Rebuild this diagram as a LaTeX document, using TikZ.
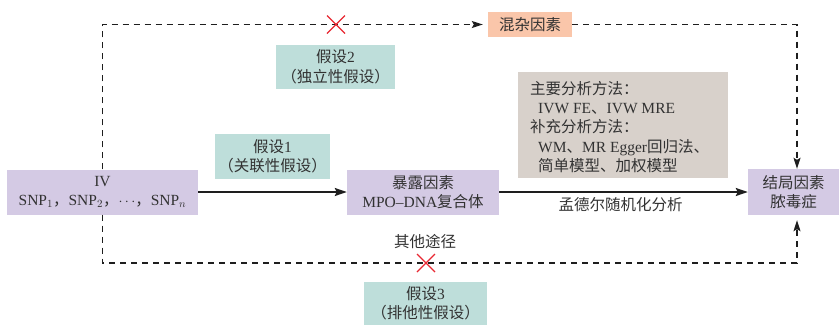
\documentclass[tikz,border=0pt]{standalone}
\usepackage{fontspec}
\setmainfont{Liberation Serif}
\newfontfamily\cjk{Noto Sans CJK SC}
\newcommand{\zh}[1]{{\cjk #1}}
\usetikzlibrary{arrows.meta}
\definecolor{boxpurple}{RGB}{212,202,228}
\definecolor{boxteal}{RGB}{190,222,218}
\definecolor{boxorange}{RGB}{250,198,170}
\definecolor{boxbeige}{RGB}{216,209,203}
\definecolor{txt}{RGB}{50,50,50}
\definecolor{crossred}{RGB}{232,40,50}
\definecolor{lin}{RGB}{30,30,30}
\begin{document}
\begin{tikzpicture}[x=1pt,y=-1pt,
  every node/.style={font=\fontsize{15.5}{19.5}\selectfont, text=txt, inner sep=0pt},
  purplebox/.style={fill=boxpurple, align=center},
  tealbox/.style={fill=boxteal, align=center},
  solidarrow/.style={draw=lin, line width=1.8pt, -{Stealth[length=12pt,width=8pt,inset=2pt]}},
  dasharrow/.style={draw=lin, line width=1.2pt, dash pattern=on 6pt off 5pt, -{Stealth[length=11pt,width=7pt,inset=2pt]}},
  crossmark/.style={draw=crossred, line width=1.3pt}
]
\useasboundingbox (0,0) rectangle (839,325);

% main boxes
\node[purplebox, minimum width=191pt, minimum height=45pt] (iv) at (102.5,192)
  {IV\\SNP$_1$\zh{，}SNP$_2$\zh{，}$\cdots$\zh{，}SNP$_n$};
\node[purplebox, minimum width=152pt, minimum height=45pt] (exp) at (423,192)
  {\zh{暴露因素}\\MPO–DNA\zh{复合体}};
\node[purplebox, minimum width=91pt, minimum height=46pt] (out) at (793.5,192)
  {\zh{结局因素}\\\zh{脓毒症}};
\node[fill=boxorange, minimum width=84pt, minimum height=25pt] (conf) at (530,24.5)
  {\zh{混杂因素}};

% assumption boxes
\node[tealbox, minimum width=119pt, minimum height=44pt] (h2) at (335.5,67)
  {\zh{假设}2\\\zh{（独立性假设）}};
\node[tealbox, minimum width=115pt, minimum height=45pt] (h1) at (272.5,156.5)
  {\zh{假设}1\\\zh{（关联性假设）}};
\node[tealbox, minimum width=123pt, minimum height=43pt] (h3) at (425.5,303.5)
  {\zh{假设}3\\\zh{（排他性假设）}};

% methods box
\node[fill=boxbeige, minimum width=210pt, minimum height=106pt] (meth) at (623,125) {};
\node[align=left, anchor=west, font=\fontsize{15.5}{19.3}\selectfont] (methtxt) at (530,127)
  {\zh{主要分析方法：}\\
   \hspace*{8pt}IVW FE\zh{、}IVW MRE\\
   \zh{补充分析方法：}\\
   \hspace*{8pt}WM\zh{、}MR Egger\zh{回归法、}\\
   \hspace*{8pt}\zh{简单模型、加权模型}};

% solid arrows
\draw[solidarrow] (iv.east) -- (exp.west);
\draw[solidarrow] (exp.east) -- node[midway, below=5pt, xshift=-3pt] (mr) {\zh{孟德尔随机化分析}} (out.west);

% dashed paths
\coordinate (outN) at ([xshift=3.5pt]out.north);
\coordinate (outS) at ([xshift=3.5pt]out.south);
\coordinate (tl) at (102.5,24.5);
\coordinate (tr) at (797,24.5);
\coordinate (bl) at (102.5,263);
\coordinate (br) at (797,263);

\draw[dasharrow, shorten >=5pt] (iv.north) -- (tl) -- (conf.west);
\draw[dasharrow] (conf.east) -- (tr) -- (outN);
\draw[dasharrow, shorten >=5pt] (iv.south) -- (bl) -- (br) -- (outS);

\node (other) at (425,242) {\zh{其他途径}};

% red crosses
\draw[crossmark] (327,15.5) -- (345,33.5) (327,33.5) -- (345,15.5);
\draw[crossmark] (417,254) -- (435,272) (417,272) -- (435,254);
\end{tikzpicture}
\end{document}
